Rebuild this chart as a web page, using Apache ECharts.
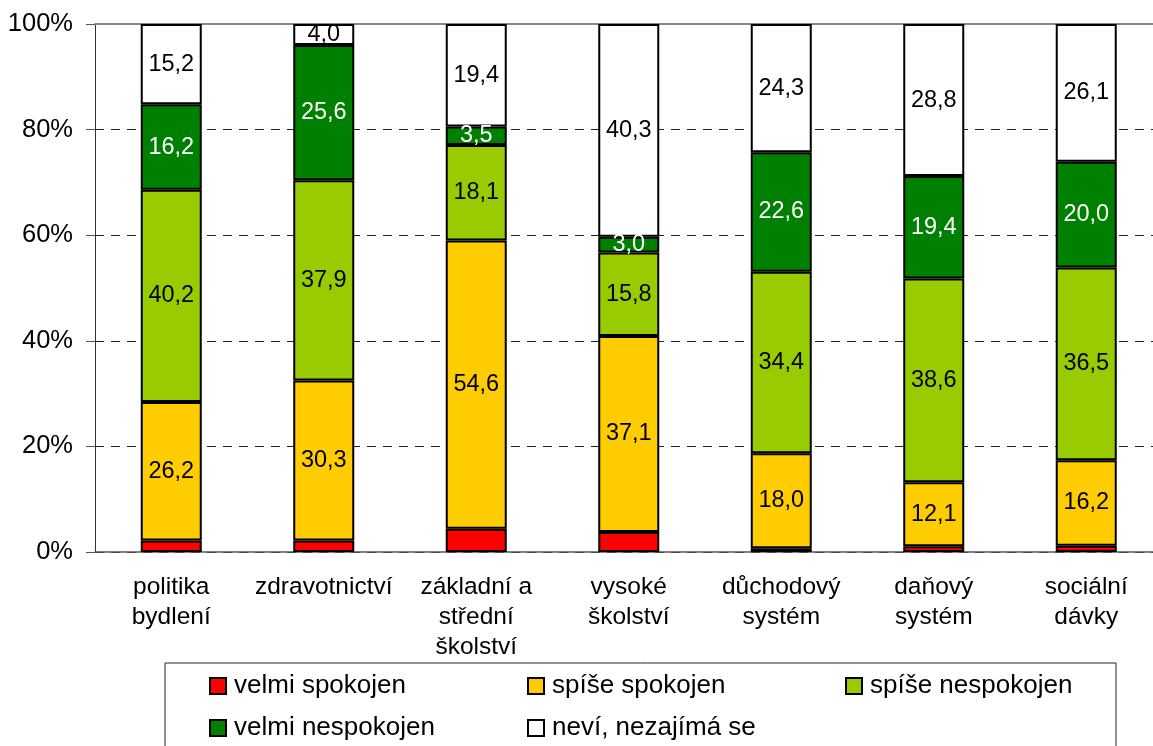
<!DOCTYPE html>
<html>
<head>
<meta charset="utf-8">
<script src="https://cdn.jsdelivr.net/npm/echarts@6/dist/echarts.min.js"></script>
<style>
    html, body { margin: 0; padding: 0; background: #fff; overflow: hidden; }
    /* a bit wider than the window: the plot area runs past the right edge, like in the original */
    #chart { width: 1163px; height: 746px; }
</style>
</head>
<body>
<div id="chart"></div>
<script>
const categories = ['politika\nbydlení', 'zdravotnictví', 'základní a\nstřední\nškolství', 'vysoké\nškolství', 'důchodový\nsystém', 'daňový\nsystém', 'sociální\ndávky']
const seriesNames = ['velmi spokojen', 'spíše spokojen', 'spíše nespokojen', 'velmi nespokojen', 'neví, nezajímá se']
const velmiSpokojen = [2.2, 2.2, 4.4, 3.8, 0.7, 1.1, 1.2]
const spiseSpokojen = [26.2, 30.3, 54.6, 37.1, 18.0, 12.1, 16.2]
const spiseNespokojen = [40.2, 37.9, 18.1, 15.8, 34.4, 38.6, 36.5]
const velmiNespokojen = [16.2, 25.6, 3.5, 3.0, 22.6, 19.4, 20.0]
const nevi = [15.2, 4.0, 19.4, 40.3, 24.3, 28.8, 26.1]
const yTicks = [0, 20, 40, 60, 80, 100]

const seriesData = [velmiSpokojen, spiseSpokojen, spiseNespokojen, velmiNespokojen, nevi]
const colors = ['#ff0000', '#ffcc00', '#99cc00', '#008000', '#ffffff']
const labelColors = ['#000', '#000', '#000', '#fff', '#000']

const font = 'Liberation Sans, Arial, sans-serif'
const chart = echarts.init(document.getElementById('chart'))

// legend item placement (icon left, top) - three columns, two rows
const legendPos = [[209, 673], [527, 673], [845, 673], [209, 715], [527, 715]]

const option = {
    animation: false,
    grid: { left: 95, right: 0.5, top: 24, bottom: 194 },
    xAxis: [
        {
            type: 'category',
            data: categories,
            axisLine: { lineStyle: { color: '#555', width: 1.5 } },
            axisTick: { length: 7, lineStyle: { color: '#555' } },
            axisLabel: { color: '#000', fontSize: 24.5, fontFamily: font, lineHeight: 30, margin: 20, interval: 0 }
        },
        {
            type: 'category',
            position: 'top',
            data: categories,
            axisLine: { lineStyle: { color: '#888', width: 2 } },
            axisTick: { show: false },
            axisLabel: { show: false }
        }
    ],
    yAxis: {
        type: 'value',
        min: yTicks[0],
        max: yTicks[yTicks.length - 1],
        interval: 20,
        axisLine: { show: true, lineStyle: { color: '#333', width: 1 } },
        axisTick: { show: true, length: 9, lineStyle: { color: '#555' } },
        axisLabel: { color: '#000', fontSize: 25.5, fontFamily: font, margin: 22, formatter: '{value}%' },
        splitLine: { lineStyle: { color: '#222', type: [9, 7], width: 1 } }
    },
    legend: seriesNames.map((name, i) => ({
        data: [name],
        left: legendPos[i][0],
        top: legendPos[i][1],
        padding: 0,
        itemWidth: 16,
        itemHeight: 16,
        icon: 'rect',
        itemStyle: { borderColor: '#000', borderWidth: 2 },
        selectedMode: false,
        textStyle: { color: '#000', fontSize: 26, fontFamily: font, padding: [0, 0, 0, 3] }
    })),
    graphic: [
        {
            type: 'rect',
            shape: { x: 165, y: 663, width: 951, height: 100 },
            style: { fill: 'none', stroke: '#222', lineWidth: 1 },
            silent: true
        }
    ],
    series: seriesNames.map((name, i) => ({
        name: name,
        type: 'bar',
        stack: 'total',
        barWidth: 61,
        data: seriesData[i],
        itemStyle: { color: colors[i], borderColor: '#000', borderWidth: 2 },
        label: {
            show: i > 0,
            position: 'inside',
            color: labelColors[i],
            fontSize: 23.5,
            fontFamily: font,
            formatter: p => p.value.toFixed(1).replace('.', ',')
        }
    }))
}

chart.setOption(option)
</script>
</body>
</html>
